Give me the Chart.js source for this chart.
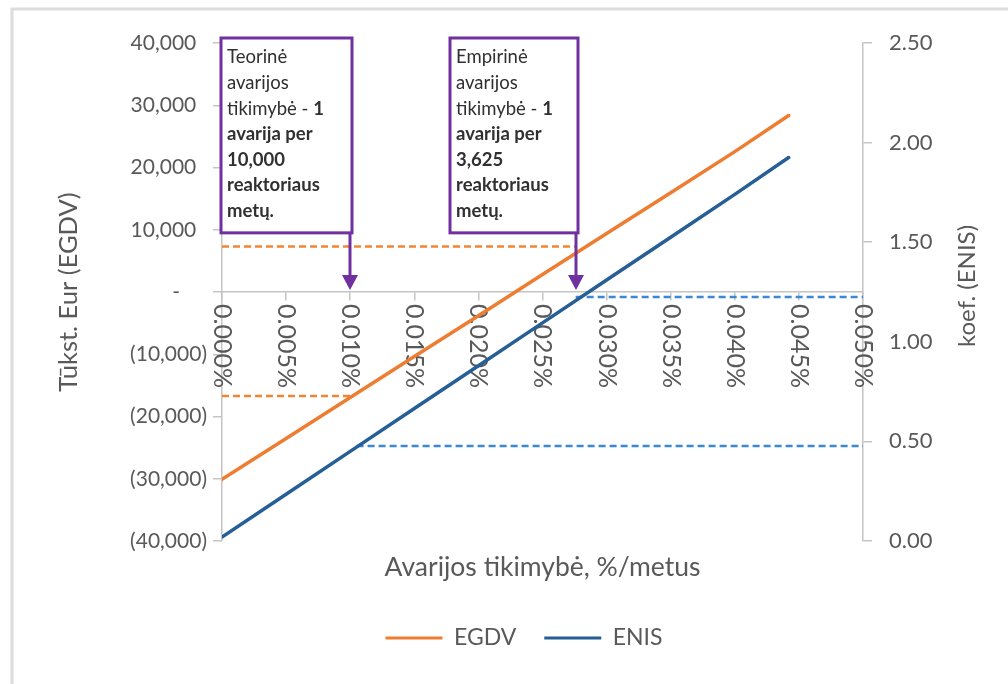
<!DOCTYPE html>
<html>
<head>
<meta charset="utf-8">
<script src="https://cdn.jsdelivr.net/npm/chart.js@4.4.1/dist/chart.umd.min.js"></script>
<style>
  html, body { margin: 0; padding: 0; background: #ffffff; }
  canvas { display: block; }
</style>
</head>
<body>
<canvas id="c" width="1008" height="684"></canvas>
<script>
// Accident probability (% per year) at which each series is given
const probPct = [0, 0.005, 0.010, 0.015, 0.020, 0.025, 0.030, 0.035, 0.040, 0.0442];
// Economic net present value, thousand EUR (left axis)
const egdv = [-30100, -23550, -16950, -10350, -3800, 2800, 9400, 15950, 22550, 28350];
// Benefit coefficient (right axis)
const enis = [0.02, 0.235, 0.45, 0.665, 0.88, 1.095, 1.31, 1.525, 1.74, 1.925];

const seriesNames = ['EGDV', 'ENIS'];
const seriesColors = ['#ED7D31', '#265E96'];

// Axis ticks
const xTicks = [0, 0.005, 0.010, 0.015, 0.020, 0.025, 0.030, 0.035, 0.040, 0.045, 0.050];
const leftTicks = [-40000, -30000, -20000, -10000, 0, 10000, 20000, 30000, 40000];
const rightTicks = [0, 0.5, 1.0, 1.5, 2.0, 2.5];

// Reference probabilities: 1 accident per 10,000 and per 3,625 reactor-years
const refYears = [10000, 3625];
const refProb = refYears.map(n => 100 / n);
// Values read at the reference probabilities
const egdvRef = [-16700, 7300];
const enisRef = [0.477, 1.225];
const enisRefStart = [0.0105, refProb[1]];

const noteTexts = [
  [[['Teorinė', false]], [['avarijos', false]], [['tikimybė - ', false], ['1', true]],
   [['avarija per', true]], [['10,000', true]], [['reaktoriaus', true]], [['metų.', true]]],
  [[['Empirinė', false]], [['avarijos', false]], [['tikimybė - ', false], ['1', true]],
   [['avarija per', true]], [['3,625', true]], [['reaktoriaus', true]], [['metų.', true]]]
];
const noteWidths = [131, 128];

const FONT = 'Lato, "Open Sans", sans-serif';
const TEXT_GREY = '#595959';
const AXIS_GREY = '#c4c4c4';

function fmtLeft(v) {
  if (v === 0) return '-     ';
  const s = Math.abs(v).toLocaleString('en-US');
  return v < 0 ? '(' + s + ')' : s + '  ';
}

const decor = {
  id: 'decor',
  beforeDatasetsDraw(chart) {
    const c = chart.ctx;
    const xs = chart.scales.x, ys = chart.scales.y;
    const y0 = ys.getPixelForValue(0);
    c.save();
    c.fillStyle = TEXT_GREY;
    c.font = '25px ' + FONT;
    c.textAlign = 'left';
    c.textBaseline = 'middle';
    xTicks.forEach(v => {
      const px = xs.getPixelForValue(v);
      c.save();
      c.translate(px, y0 + 12);
      c.rotate(Math.PI / 2);
      c.fillText(v.toFixed(3) + '%', 0, 0);
      c.restore();
    });
    c.restore();
  },
  afterDatasetsDraw(chart) {
    const c = chart.ctx;
    const xs = chart.scales.x, ys = chart.scales.y;
    const y0 = ys.getPixelForValue(0);
    const top = chart.chartArea.top - 5;
    const bottom = ys.getPixelForValue(9500);
    c.save();
    refProb.forEach((p, i) => {
      const ax = Math.round(xs.getPixelForValue(p));
      const right = ax + 2, left = right - noteWidths[i];
      // box
      c.fillStyle = '#ffffff';
      c.fillRect(left, top, right - left, bottom - top);
      c.strokeStyle = '#7030A0';
      c.lineWidth = 3;
      c.strokeRect(left, top, right - left, bottom - top);
      // arrow
      const tip = y0 - 2;
      c.beginPath();
      c.moveTo(ax, bottom);
      c.lineTo(ax, tip - 12);
      c.stroke();
      c.fillStyle = '#7030A0';
      c.beginPath();
      c.moveTo(ax - 8, tip - 15);
      c.lineTo(ax + 8, tip - 15);
      c.lineTo(ax, tip);
      c.closePath();
      c.fill();
      // text
      c.fillStyle = '#303030';
      c.textAlign = 'left';
      c.textBaseline = 'middle';
      noteTexts[i].forEach((line, k) => {
        let tx = left + 6;
        const ty = top + 19.5 + k * 25.6;
        line.forEach(([t, bold]) => {
          c.font = (bold ? 'bold ' : '') + '18.5px ' + FONT;
          c.fillText(t, tx, ty);
          tx += c.measureText(t).width;
        });
      });
    });
    c.restore();
  },
  afterDraw(chart) {
    const c = chart.ctx;
    c.save();
    // right axis title
    c.fillStyle = TEXT_GREY;
    c.font = '24px ' + FONT;
    c.textAlign = 'center';
    c.textBaseline = 'middle';
    c.translate(967, (chart.chartArea.top + chart.chartArea.bottom) / 2 - 6);
    c.rotate(-Math.PI / 2);
    c.fillText('koef. (ENIS)', 0, 0);
    c.restore();
    // outer frame
    c.save();
    c.strokeStyle = '#dcdcdc';
    c.lineWidth = 3;
    c.beginPath();
    c.moveTo(12, 684);
    c.lineTo(12, 9);
    c.lineTo(1008, 9);
    c.stroke();
    c.restore();
  }
};

const pts = (xsArr, ysArr) => xsArr.map((x, i) => ({ x, y: ysArr[i] }));
const xMax = xTicks[xTicks.length - 1];

new Chart(document.getElementById('c'), {
  type: 'line',
  data: {
    datasets: [
      { label: seriesNames[0], data: pts(probPct, egdv), xAxisID: 'x', yAxisID: 'y',
        borderColor: seriesColors[0], backgroundColor: seriesColors[0], borderWidth: 3.5,
        pointRadius: 0, borderCapStyle: 'round', order: 1 },
      { label: seriesNames[1], data: pts(probPct, enis), xAxisID: 'x', yAxisID: 'y2',
        borderColor: seriesColors[1], backgroundColor: seriesColors[1], borderWidth: 3.5,
        pointRadius: 0, borderCapStyle: 'round', order: 1 },
      { label: 'egdv-ref-1', data: pts([0, refProb[0]], [egdvRef[0], egdvRef[0]]), xAxisID: 'x', yAxisID: 'y',
        borderColor: '#F08535', borderWidth: 2.5, borderDash: [7, 4], pointRadius: 0, order: 2 },
      { label: 'egdv-ref-2', data: pts([0, refProb[1]], [egdvRef[1], egdvRef[1]]), xAxisID: 'x', yAxisID: 'y',
        borderColor: '#F08535', borderWidth: 2.5, borderDash: [7, 4], pointRadius: 0, order: 2 },
      { label: 'enis-ref-1', data: pts([enisRefStart[0], xMax], [enisRef[0], enisRef[0]]), xAxisID: 'x', yAxisID: 'y2',
        borderColor: '#3A88D6', borderWidth: 2.5, borderDash: [7, 4], pointRadius: 0, order: 2 },
      { label: 'enis-ref-2', data: pts([enisRefStart[1], xMax], [enisRef[1], enisRef[1]]), xAxisID: 'x', yAxisID: 'y2',
        borderColor: '#3A88D6', borderWidth: 2.5, borderDash: [7, 4], pointRadius: 0, order: 2 }
    ]
  },
  options: {
    responsive: false,
    animation: false,
    devicePixelRatio: 1,
    layout: { padding: { left: 40, right: 0, top: 43, bottom: 24.5 } },
    scales: {
      x: {
        type: 'linear', axis: 'x', position: { y: 0 }, min: 0, max: xMax,
        afterBuildTicks: s => { s.ticks = xTicks.map(v => ({ value: v })); },
        ticks: { display: false },
        grid: { drawOnChartArea: false, drawTicks: true, tickLength: 8, color: AXIS_GREY, lineWidth: 1.5 },
        border: { color: AXIS_GREY, width: 1.5 }
      },
      xt: {
        type: 'linear', axis: 'x', position: 'bottom', display: true,
        ticks: { display: false },
        grid: { display: false },
        border: { display: false },
        title: { display: true, text: 'Avarijos tikimybė, %/metus', color: TEXT_GREY,
                 font: { family: FONT, size: 26.5 }, padding: { top: 0, bottom: 15 } },
        afterFit: s => { s.height = 57.5; }
      },
      y: {
        type: 'linear', position: 'left', min: -40000, max: 40000,
        afterBuildTicks: s => { s.ticks = leftTicks.map(v => ({ value: v })); },
        ticks: { callback: fmtLeft, color: TEXT_GREY, font: { family: FONT, size: 21 }, padding: 6 },
        grid: { drawOnChartArea: false, drawTicks: true, tickLength: 9, color: AXIS_GREY, lineWidth: 1.5 },
        border: { color: AXIS_GREY, width: 1.5 },
        title: { display: true, text: 'Tūkst. Eur (EGDV)', color: TEXT_GREY,
                 font: { family: FONT, size: 25.5 }, padding: { top: 13, bottom: 0 } },
        afterFit: s => { s.width = 182; }
      },
      y2: {
        type: 'linear', position: 'right', min: 0, max: 2.5,
        afterBuildTicks: s => { s.ticks = rightTicks.map(v => ({ value: v })); },
        ticks: { callback: v => v.toFixed(2), color: TEXT_GREY, font: { family: FONT, size: 22 }, padding: 17 },
        grid: { drawOnChartArea: false, drawTicks: true, tickLength: 9, color: AXIS_GREY, lineWidth: 1.5 },
        border: { color: AXIS_GREY, width: 1.5 },
        afterFit: s => { s.width = 145; }
      }
    },
    plugins: {
      legend: {
        display: true,
        position: 'bottom',
        labels: {
          boxWidth: 57, boxHeight: 3, padding: 28, color: TEXT_GREY,
          font: { family: FONT, size: 23 },
          generateLabels: () => seriesNames.map((name, i) => ({
            text: name, fillStyle: seriesColors[i], strokeStyle: seriesColors[i],
            lineWidth: 0, hidden: false, datasetIndex: i, fontColor: TEXT_GREY
          }))
        }
      },
      tooltip: { enabled: false }
    }
  },
  plugins: [decor]
});
</script>
</body>
</html>
